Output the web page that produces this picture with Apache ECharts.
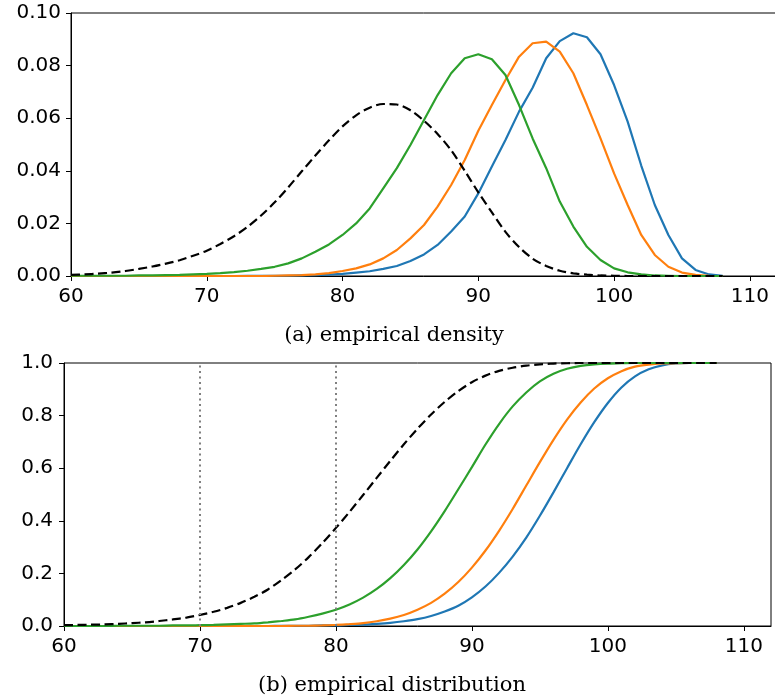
<!DOCTYPE html>
<html>
<head>
<meta charset="utf-8">
<script src="https://cdn.jsdelivr.net/npm/echarts@6/dist/echarts.min.js"></script>
<style>
  html, body { margin: 0; padding: 0; background: #fff; }
  #chart { width: 775px; height: 700px; }
</style>
</head>
<body>
<div id="chart"></div>
<script>
var xs = [60, 61, 62, 63, 64, 65, 66, 67, 68, 69, 70, 71, 72, 73, 74, 75, 76, 77, 78, 79,
          80, 81, 82, 83, 84, 85, 86, 87, 88, 89, 90, 91, 92, 93, 94, 95, 96, 97, 98, 99,
          100, 101, 102, 103, 104, 105, 106, 107, 108];

// (a) empirical density
var blueDensity = [0, 0, 0, 0, 0, 0, 0, 0, 0, 0, 0, 0, 0, 0.0001, 0.0001, 0.0001, 0.0001, 0.0002, 0.0003, 0.0005,
                   0.0008, 0.0013, 0.0018, 0.0027, 0.0038, 0.0057, 0.0082, 0.0118, 0.0169, 0.0226,
                   0.0314, 0.0416, 0.0517, 0.0625, 0.0716, 0.0828, 0.0893, 0.0923, 0.0908, 0.0843,
                   0.0726, 0.0587, 0.042, 0.027, 0.0156, 0.0067, 0.0023, 0.0006, 0.0001];
var orangeDensity = [0, 0, 0, 0, 0, 0, 0, 0, 0, 0, 0, 0, 0, 0, 0, 0.0001, 0.0002, 0.0003, 0.0006, 0.0011,
                     0.0019, 0.0029, 0.0044, 0.0067, 0.0099, 0.0143, 0.0194, 0.0264, 0.0346, 0.0441,
                     0.0552, 0.065, 0.0745, 0.0834, 0.0885, 0.0891, 0.0853, 0.0771, 0.065, 0.0523,
                     0.039, 0.027, 0.0156, 0.008, 0.0035, 0.0013, 0.0004, 0.0001, 0];
var greenDensity = [0.0001, 0.0001, 0.0001, 0.0001, 0.0001, 0.0002, 0.0002, 0.0003, 0.0004, 0.0006,
                    0.0008, 0.0011, 0.0015, 0.002, 0.0027, 0.0035, 0.0048, 0.0067, 0.0092, 0.012,
                    0.0156, 0.02, 0.0257, 0.0333, 0.041, 0.0498, 0.0593, 0.0688, 0.0771, 0.0828,
                    0.0843, 0.0824, 0.0764, 0.065, 0.0523, 0.041, 0.0283, 0.0188, 0.0111, 0.0061,
                    0.0029, 0.0014, 0.0006, 0.0002, 0.0001, 0, 0, 0, 0];
var normalDensity = [0.0004, 0.0006, 0.0009, 0.0013, 0.0019, 0.0027, 0.0036, 0.0047, 0.006, 0.0077,
                     0.0096, 0.0122, 0.0151, 0.0187, 0.023, 0.028, 0.0337, 0.0398, 0.0458, 0.0516,
                     0.0569, 0.0611, 0.064, 0.0654, 0.0652, 0.063, 0.059, 0.054, 0.0478, 0.04,
                     0.0318, 0.0242, 0.0168, 0.011, 0.0066, 0.0038, 0.002, 0.001, 0.0005, 0.0002,
                     0.0001, 0, 0, 0, 0, 0, 0, 0, 0];

// (b) empirical distribution
var blueCdf = [0, 0, 0, 0, 0, 0, 0, 0, 0, 0, 0, 0, 0, 0, 0, 0, 0.001, 0.001, 0.001, 0.002,
               0.002, 0.004, 0.005, 0.008, 0.012, 0.018, 0.026, 0.038, 0.055, 0.077,
               0.109, 0.150, 0.202, 0.264, 0.336, 0.419, 0.508, 0.600, 0.691, 0.775,
               0.848, 0.907, 0.949, 0.976, 0.991, 0.998, 1, 1, 1];
var orangeCdf = [0, 0, 0, 0, 0, 0, 0, 0, 0, 0, 0, 0, 0, 0, 0, 0, 0, 0.001, 0.001, 0.002,
                 0.004, 0.007, 0.011, 0.018, 0.028, 0.042, 0.062, 0.088, 0.123, 0.167,
                 0.222, 0.287, 0.362, 0.445, 0.534, 0.623, 0.708, 0.785, 0.850, 0.903,
                 0.942, 0.969, 0.986, 0.994, 0.998, 0.999, 1, 1, 1];
var greenCdf = [0, 0, 0, 0, 0.001, 0.001, 0.001, 0.001, 0.002, 0.002,
                0.003, 0.004, 0.006, 0.008, 0.010, 0.014, 0.019, 0.025, 0.035, 0.047,
                0.062, 0.082, 0.108, 0.141, 0.182, 0.232, 0.291, 0.360, 0.437, 0.520,
                0.604, 0.690, 0.768, 0.835, 0.888, 0.930, 0.959, 0.978, 0.989, 0.995,
                0.998, 0.999, 1, 1, 1, 1, 1, 1, 1];
var normalCdf = [0.003, 0.004, 0.005, 0.006, 0.008, 0.011, 0.014, 0.019, 0.025, 0.032,
                 0.042, 0.054, 0.069, 0.088, 0.111, 0.139, 0.175, 0.215, 0.262, 0.315,
                 0.373, 0.434, 0.498, 0.563, 0.628, 0.691, 0.750, 0.804, 0.852, 0.893,
                 0.927, 0.952, 0.970, 0.982, 0.990, 0.995, 0.998, 0.999, 1, 1,
                 1, 1, 1, 1, 1, 1, 1, 1, 1];

var vlines = [70, 80];
var xTicks = [60, 70, 80, 90, 100, 110];
var captions = ['(a) empirical density', '(b) empirical distribution'];

var BLUE = '#1f77b4', ORANGE = '#ff7f0e', GREEN = '#2ca02c';

function pairs(vals) {
  return xs.map(function(x, i) { return [x, vals[i]]; });
}

function xAxisCfg(idx) {
  return {
    type: 'value', gridIndex: idx, min: 60, max: 112, interval: 10,
    axisLine: { show: true, onZero: false, lineStyle: { color: '#000', width: 1 } },
    axisTick: { show: true, inside: false, length: 5, lineStyle: { color: '#000', width: 1 } },
    axisLabel: {
      fontSize: 20, fontFamily: 'DejaVu Sans', color: '#000', margin: 11,
      showMaxLabel: false,
      formatter: function(v) { return xTicks.indexOf(v) >= 0 ? String(v) : ''; }
    },
    splitLine: { show: false }
  };
}

function yAxisCfg(idx, max, step, digits, margin) {
  return {
    type: 'value', gridIndex: idx, min: 0, max: max, interval: step,
    axisLine: { show: true, onZero: false, lineStyle: { color: '#000', width: 1 } },
    axisTick: { show: true, inside: false, length: 5, lineStyle: { color: '#000', width: 1 } },
    axisLabel: {
      fontSize: 20, fontFamily: 'DejaVu Sans', color: '#000', margin: margin,
      formatter: function(v) { return v.toFixed(digits); }
    },
    splitLine: { show: false }
  };
}

function solid(name, idx, vals, color, smooth) {
  return {
    name: name, type: 'line', xAxisIndex: idx, yAxisIndex: idx,
    data: pairs(vals), showSymbol: false, smooth: smooth,
    lineStyle: { color: color, width: 2.2 }, itemStyle: { color: color }
  };
}

var chart = echarts.init(document.getElementById('chart'));

var blueB = solid('blue cdf', 1, blueCdf, BLUE, 0.3);
blueB.markLine = {
  silent: true, symbol: 'none', animation: false,
  label: { show: false },
  lineStyle: { color: '#808080', type: [2, 3.5], width: 2 },
  data: vlines.map(function(v) { return { xAxis: v }; })
};

chart.setOption({
  animation: false,
  grid: [
    { left: 71, top: 13, width: 706, height: 263, show: true, borderColor: '#000', borderWidth: 1, outerBoundsMode: 'none' },
    { left: 64, top: 363, width: 707, height: 263, show: true, borderColor: '#000', borderWidth: 1, outerBoundsMode: 'none' }
  ],
  xAxis: [xAxisCfg(0), xAxisCfg(1)],
  yAxis: [yAxisCfg(0, 0.1, 0.02, 2, 10), yAxisCfg(1, 1, 0.2, 1, 11)],
  graphic: [
    { type: 'text', x: 394, y: 336, style: { text: captions[0], align: 'center', verticalAlign: 'middle',
      fontSize: 21, fontFamily: 'DejaVu Serif', fill: '#000' } },
    { type: 'text', x: 392, y: 686, style: { text: captions[1], align: 'center', verticalAlign: 'middle',
      fontSize: 21, fontFamily: 'DejaVu Serif', fill: '#000' } }
  ],
  series: [
    solid('blue', 0, blueDensity, BLUE, false),
    solid('orange', 0, orangeDensity, ORANGE, false),
    solid('green', 0, greenDensity, GREEN, false),
    {
      name: 'normal', type: 'line', xAxisIndex: 0, yAxisIndex: 0,
      data: pairs(normalDensity), showSymbol: false, smooth: 0.3,
      lineStyle: { color: '#000', width: 2.2, type: [9, 4.5] }
    },
    blueB,
    solid('orange cdf', 1, orangeCdf, ORANGE, 0.3),
    solid('green cdf', 1, greenCdf, GREEN, 0.3),
    {
      name: 'normal cdf', type: 'line', xAxisIndex: 1, yAxisIndex: 1,
      data: pairs(normalCdf), showSymbol: false, smooth: 0.3,
      lineStyle: { color: '#000', width: 2.2, type: [9, 4.5] }
    }
  ]
});
</script>
</body>
</html>
